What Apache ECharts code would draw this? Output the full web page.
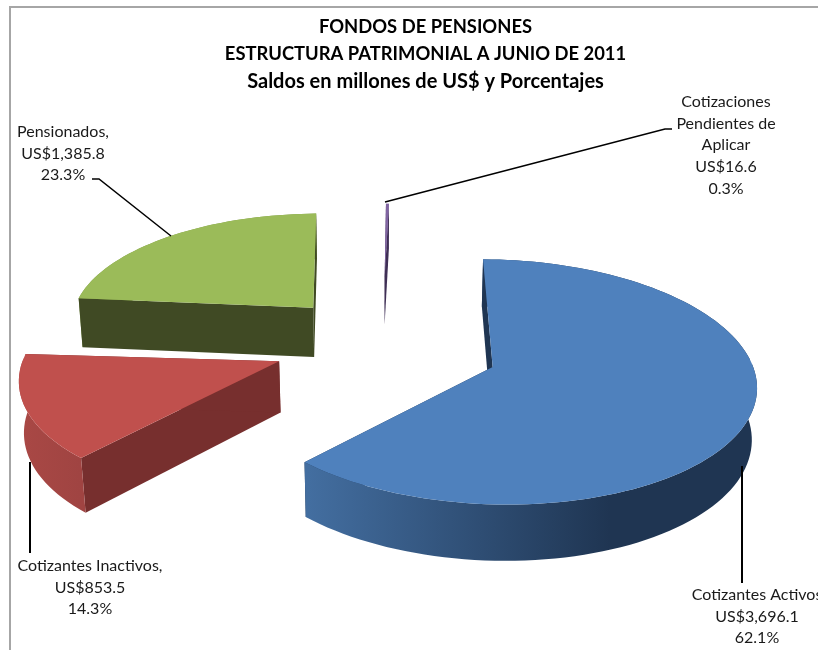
<!DOCTYPE html>
<html>
<head>
<meta charset="utf-8">
<title>Fondos de pensiones</title>
<style>
html,body{margin:0;padding:0;background:#fff;overflow:hidden}
#chart{width:818px;height:650px}
</style>
<script src="https://cdn.jsdelivr.net/npm/echarts@6/dist/echarts.min.js"></script>
</head>
<body>
<div id="chart"></div>
<script>
// datos del grafico
var categorias = ["Cotizantes Activos", "Cotizantes Inactivos", "Pensionados", "Cotizaciones Pendientes de Aplicar"];
var saldos = [3696.1, 853.5, 1385.8, 16.6];
var porcentajes = [62.1, 14.3, 23.3, 0.3];
var saldosTexto = ["US$3,696.1", "US$853.5", "US$1,385.8", "US$16.6"];
var porcentajesTexto = ["62.1%", "14.3%", "23.3%", "0.3%"];
var titulo = ["FONDOS DE PENSIONES", "ESTRUCTURA PATRIMONIAL A JUNIO DE 2011", "Saldos en millones de US$ y Porcentajes"];

// camara del pastel 3D (echarts no lo trae, se proyecta a mano)
var camara = {cx: 382, cy: 346, f: 255, elev: 27 * Math.PI / 180, dist: 7.5, alto: 0.226, inicio: 1.5};

// estilo y posicion por porcion, mismo orden que categorias
var estilos = [
	{top: "#4f81bd", corte: "#1f3552", explode: 0.45, radio: 1, giro: -1, ajuste: [3, 0], pared: {x: 308, x2: 610, c1: "#436ea0", c2: "#1f3552"},
		lineas: [[742, 466], [742, 583]], texto: [757, 595], lineasTexto: ["Cotizantes Activos"]},
	{top: "#c0504d", corte: "#772f2e", explode: 0.42, radio: 0.99, giro: -3.2, ajuste: [0, -1], pared: {x: 20, x2: 80, c1: "#a94845", c2: "#a04442"},
		lineas: [[30, 462], [30, 553]], texto: [90, 566], lineasTexto: ["Cotizantes Inactivos,"]},
	{top: "#9bbb59", corte: "#404a24", explode: 0.41, radio: 0.97, giro: -1.5, ajuste: [-2, -4], pared: {x: 80, x2: 320, c1: "#7f9a48", c2: "#7f9a48"},
		lineas: [[92, 179], [99, 179], [171, 236]], texto: [63, 132], lineasTexto: ["Pensionados,"]},
	{top: "#8064a2", corte: "#3f2f55", explode: 0.65, radio: 0.79, giro: 0, ajuste: [0, 0], pared: {x: 380, x2: 392, c1: "#b3a2c7", c2: "#b3a2c7"},
		lineas: [[672, 129], [665, 129], [385, 202]], texto: [726, 102], lineasTexto: ["Cotizaciones", "Pendientes de", "Aplicar"]}
];

var total = saldos.reduce(function (a, b) { return a + b; }, 0);

function proyectar(x, y, z, ajuste) {
	var s = Math.sin(camara.elev), c = Math.cos(camara.elev);
	var yv = y * s + z * c;
	var prof = y * c - z * s;
	var esc = camara.dist / (camara.dist + prof);
	return [camara.cx + camara.f * x * esc + ajuste[0], camara.cy - camara.f * yv * esc + ajuste[1]];
}

function dibujarPorcion(params, api) {
	var i = params.dataIndex;
	var est = estilos[i];
	var acum = 0;
	for (var k = 0; k < i; k++) { acum += saldos[k]; }
	var a0 = camara.inicio + acum / total * 360;
	var a1 = a0 + api.value(0) / total * 360;
	var med = (a0 + a1) / 2 * Math.PI / 180;
	var ox = est.explode * Math.sin(med), oy = est.explode * Math.cos(med);
	var h = camara.alto;

	var arcoTop = [], arcoBase = [], cercaTop = [], cercaBase = [], lejosTop = [], lejosBase = [];
	var pasos = Math.max(2, Math.ceil((a1 - a0) / 2));
	for (var p = 0; p <= pasos; p++) {
		var t = (a0 + est.giro + (a1 - a0) * p / pasos) * Math.PI / 180;
		var wx = ox + est.radio * Math.sin(t), wy = oy + est.radio * Math.cos(t);
		var pt = proyectar(wx, wy, 0, est.ajuste), pb = proyectar(wx, wy, -h, est.ajuste);
		arcoTop.push(pt);
		arcoBase.push(pb);
		// la parte de atras de la pared va debajo de los cortes
		if (Math.cos(t) < 0.05) { cercaTop.push(pt); cercaBase.push(pb); } else { lejosTop.push(pt); lejosBase.push(pb); }
	}
	var centroTop = proyectar(ox, oy, 0, est.ajuste), centroBase = proyectar(ox, oy, -h, est.ajuste);

	var hijos = [];
	function poligono(puntos, fill) {
		if (puntos.length > 2) { hijos.push({type: "polygon", shape: {points: puntos}, style: {fill: fill, stroke: null}}); }
	}
	var grad = {
		type: "linear", x: est.pared.x, y: 0, x2: est.pared.x2, y2: 0, global: true,
		colorStops: [{offset: 0, color: est.pared.c1}, {offset: 1, color: est.pared.c2}]
	};
	poligono(lejosTop.concat(lejosBase.slice().reverse()), grad);
	poligono([centroTop, arcoTop[0], arcoBase[0], centroBase], est.corte);
	poligono([centroTop, arcoTop[pasos], arcoBase[pasos], centroBase], est.corte);
	poligono(cercaTop.concat(cercaBase.slice().reverse()), grad);
	poligono([centroTop].concat(arcoTop), est.top);

	hijos.push({type: "polyline", shape: {points: est.lineas},
		style: {stroke: "#000", lineWidth: est.lineas.length === 2 ? 2 : 1.5, fill: null}});

	var textos = est.lineasTexto.concat([saldosTexto[i], porcentajesTexto[i]]);
	for (var n = 0; n < textos.length; n++) {
		hijos.push({type: "text", x: est.texto[0], y: est.texto[1] + n * 21.6, style: {
			text: textos[n], align: "center", verticalAlign: "middle", fill: "#1a1a1a",
			font: "16px Lato, 'Open Sans', sans-serif"
		}});
	}
	return {type: "group", children: hijos};
}

var chart = echarts.init(document.getElementById("chart"), null, {renderer: "canvas"});
chart.setOption({
	animation: false,
	backgroundColor: "#ffffff",
	title: {
		text: "{a|" + titulo[0] + "}\n{b|" + titulo[1] + "}\n{c|" + titulo[2] + "}",
		left: 420.5, top: 9, textAlign: "center",
		textStyle: {
			rich: {
				a: {fontFamily: "Lato", fontWeight: "bold", fontSize: 18.4, lineHeight: 27, color: "#000"},
				b: {fontFamily: "Lato", fontWeight: "bold", fontSize: 18.4, lineHeight: 27, color: "#000"},
				c: {fontFamily: "Lato", fontWeight: "bold", fontSize: 20, lineHeight: 27, color: "#000"}
			}
		}
	},
	graphic: [
		{type: "polyline", shape: {points: [[10, 650], [10, 7], [818, 7]]}, style: {stroke: "#a6a6a6", lineWidth: 2, fill: null}, silent: true}
	],
	series: [{
		type: "custom",
		coordinateSystem: "none",
		name: "Estructura patrimonial",
		data: saldos.map(function (v, i) { return {name: categorias[i], value: [v, porcentajes[i]]}; }),
		renderItem: dibujarPorcion,
		clip: false
	}]
});
</script>
</body>
</html>
